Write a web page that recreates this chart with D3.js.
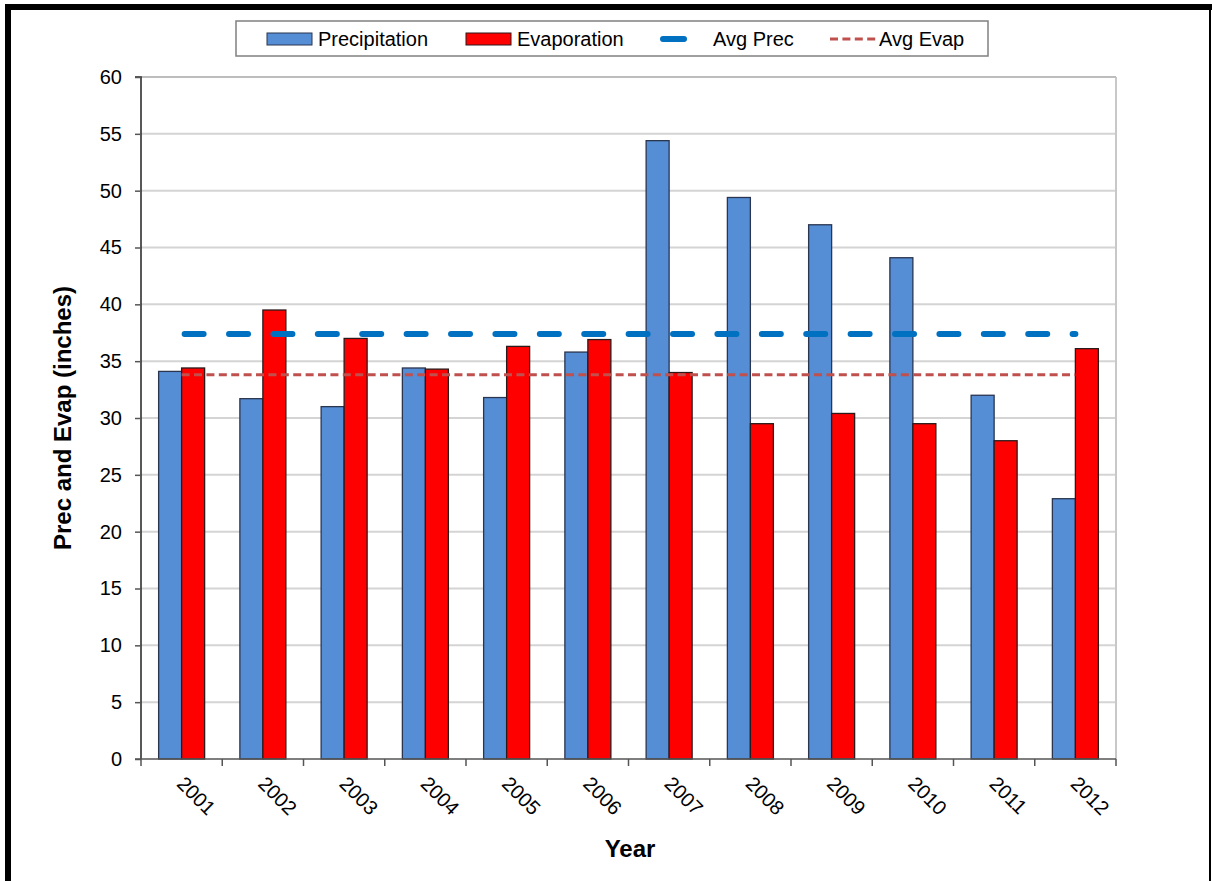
<!DOCTYPE html>
<html><head><meta charset="utf-8">
<script src="https://cdn.jsdelivr.net/npm/d3@7"></script>
<style>body{margin:0;background:#fff;}svg{display:block;font-family:"Liberation Sans",Arial,sans-serif;}</style>
</head><body>
<svg id="c" width="1212" height="881"></svg>
<script>
const years = ["2001","2002","2003","2004","2005","2006","2007","2008","2009","2010","2011","2012"];
const precipitation = [34.1,31.7,31.0,34.4,31.8,35.8,54.4,49.4,47.0,44.1,32.0,22.9];
const evaporation = [34.4,39.5,37.0,34.3,36.3,36.9,34.0,29.5,30.4,29.5,28.0,36.1];
const avgPrec = 37.4;
const avgEvap = 33.8;
const yTicks = [0,5,10,15,20,25,30,35,40,45,50,55,60];
const seriesNames = ["Precipitation","Evaporation","Avg Prec","Avg Evap"];

const svg = d3.select("#c");
const L = 141, R = 1116, T = 77, B = 759;

// frame
svg.append("rect").attr("x",5).attr("y",4).attr("width",1212).attr("height",6).attr("fill","#000");
svg.append("rect").attr("x",5).attr("y",4).attr("width",6).attr("height",900).attr("fill","#000");
svg.append("rect").attr("x",1209).attr("y",4).attr("width",2).attr("height",900).attr("fill","#000");

const x = d3.scaleBand().domain(years).range([L,R]).paddingInner(0).paddingOuter(0);
const y = d3.scaleLinear().domain([0,60]).range([B,T]);
const bw = 23;

// gridlines
svg.append("g").selectAll("line").data(yTicks.filter(d=>d>0)).join("line")
  .attr("x1",L).attr("x2",R).attr("y1",d=>y(d)).attr("y2",d=>y(d))
  .attr("stroke","#d4d4d4").attr("stroke-width",2);
// plot border
svg.append("line").attr("x1",R).attr("x2",R).attr("y1",T).attr("y2",B).attr("stroke","#c8c8c8").attr("stroke-width",2);
svg.append("line").attr("x1",L).attr("x2",R).attr("y1",T).attr("y2",T).attr("stroke","#bdbdbd").attr("stroke-width",2);

// bars
const g = svg.append("g");
g.selectAll("rect.p").data(years).join("rect")
  .attr("x",(d)=>x(d)+x.bandwidth()/2-bw).attr("width",bw)
  .attr("y",(d,i)=>y(precipitation[i])).attr("height",(d,i)=>B-y(precipitation[i]))
  .attr("fill","#558ED5").attr("stroke","#2a3550").attr("stroke-width",1.3);
g.selectAll("rect.e").data(years).join("rect")
  .attr("x",(d)=>x(d)+x.bandwidth()/2).attr("width",bw)
  .attr("y",(d,i)=>y(evaporation[i])).attr("height",(d,i)=>B-y(evaporation[i]))
  .attr("fill","#FF0000").attr("stroke","#2a1a1a").attr("stroke-width",1.3);

// average lines
const x0 = x(years[0])+x.bandwidth()/2, x1 = x(years[years.length-1])+x.bandwidth()/2;
svg.append("line").attr("x1",x0+3).attr("x2",x1).attr("y1",y(avgPrec)).attr("y2",y(avgPrec))
  .attr("stroke","#0070C0").attr("stroke-width",6).attr("stroke-linecap","round").attr("stroke-dasharray","19,25.4");
svg.append("line").attr("x1",x0).attr("x2",x1).attr("y1",y(avgEvap)).attr("y2",y(avgEvap))
  .attr("stroke","#C0504D").attr("stroke-width",3).attr("stroke-dasharray","8,4.4");

// y axis
const ya = svg.append("g").attr("transform",`translate(${L},0)`)
  .call(d3.axisLeft(y).tickValues(yTicks).tickSize(6).tickPadding(13));
ya.select(".domain").attr("stroke","#222").attr("stroke-width",1.5).attr("d",`M-6,${T}H0V${B}`);
ya.selectAll(".tick line").attr("stroke","#555").attr("stroke-width",1.5);
ya.selectAll(".tick text").attr("font-size",20).attr("fill","#000").attr("font-family","Liberation Sans, Arial, sans-serif");

// x axis
const xa = svg.append("g").attr("transform",`translate(0,${B})`);
xa.append("line").attr("x1",L-6).attr("x2",R).attr("y1",0).attr("y2",0).attr("stroke","#555").attr("stroke-width",1.5);
const bounds = years.map(d=>x(d)).concat([R]);
xa.selectAll("line.t").data(bounds).join("line")
  .attr("x1",d=>d).attr("x2",d=>d).attr("y1",0).attr("y2",7).attr("stroke","#555").attr("stroke-width",1.5);
xa.selectAll("text").data(years).join("text")
  .attr("transform",d=>`translate(${x(d)+x.bandwidth()/2-6},${26}) rotate(45)`)
  .attr("font-size",20).attr("fill","#000").text(d=>d);

// axis titles
svg.append("text").attr("transform",`translate(71,${(T+B)/2}) rotate(-90)`).attr("text-anchor","middle")
  .attr("font-size",24).attr("font-weight","bold").text("Prec and Evap (inches)");
svg.append("text").attr("x",630).attr("y",857).attr("text-anchor","middle")
  .attr("font-size",24).attr("font-weight","bold").text("Year");

// legend
const lg = svg.append("g");
lg.append("rect").attr("x",236).attr("y",21).attr("width",752).attr("height",35)
  .attr("fill","#fff").attr("stroke","#808080").attr("stroke-width",1.5);
lg.append("rect").attr("x",267).attr("y",33).attr("width",45).attr("height",12).attr("fill","#558ED5").attr("stroke","#2a3550");
lg.append("text").attr("x",318).attr("y",46).attr("font-size",20).text(seriesNames[0]);
lg.append("rect").attr("x",466).attr("y",33).attr("width",45).attr("height",12).attr("fill","#FF0000").attr("stroke","#2a1a1a");
lg.append("text").attr("x",517).attr("y",46).attr("font-size",20).text(seriesNames[1]);
lg.append("line").attr("x1",663).attr("x2",684).attr("y1",39).attr("y2",39).attr("stroke","#0070C0").attr("stroke-width",6).attr("stroke-linecap","round");
lg.append("text").attr("x",713).attr("y",46).attr("font-size",20).text(seriesNames[2]);
lg.append("line").attr("x1",830).attr("x2",877).attr("y1",39).attr("y2",39).attr("stroke","#C0504D").attr("stroke-width",3).attr("stroke-dasharray","8,4.4");
lg.append("text").attr("x",879).attr("y",46).attr("font-size",20).text(seriesNames[3]);
</script>
</body></html>
